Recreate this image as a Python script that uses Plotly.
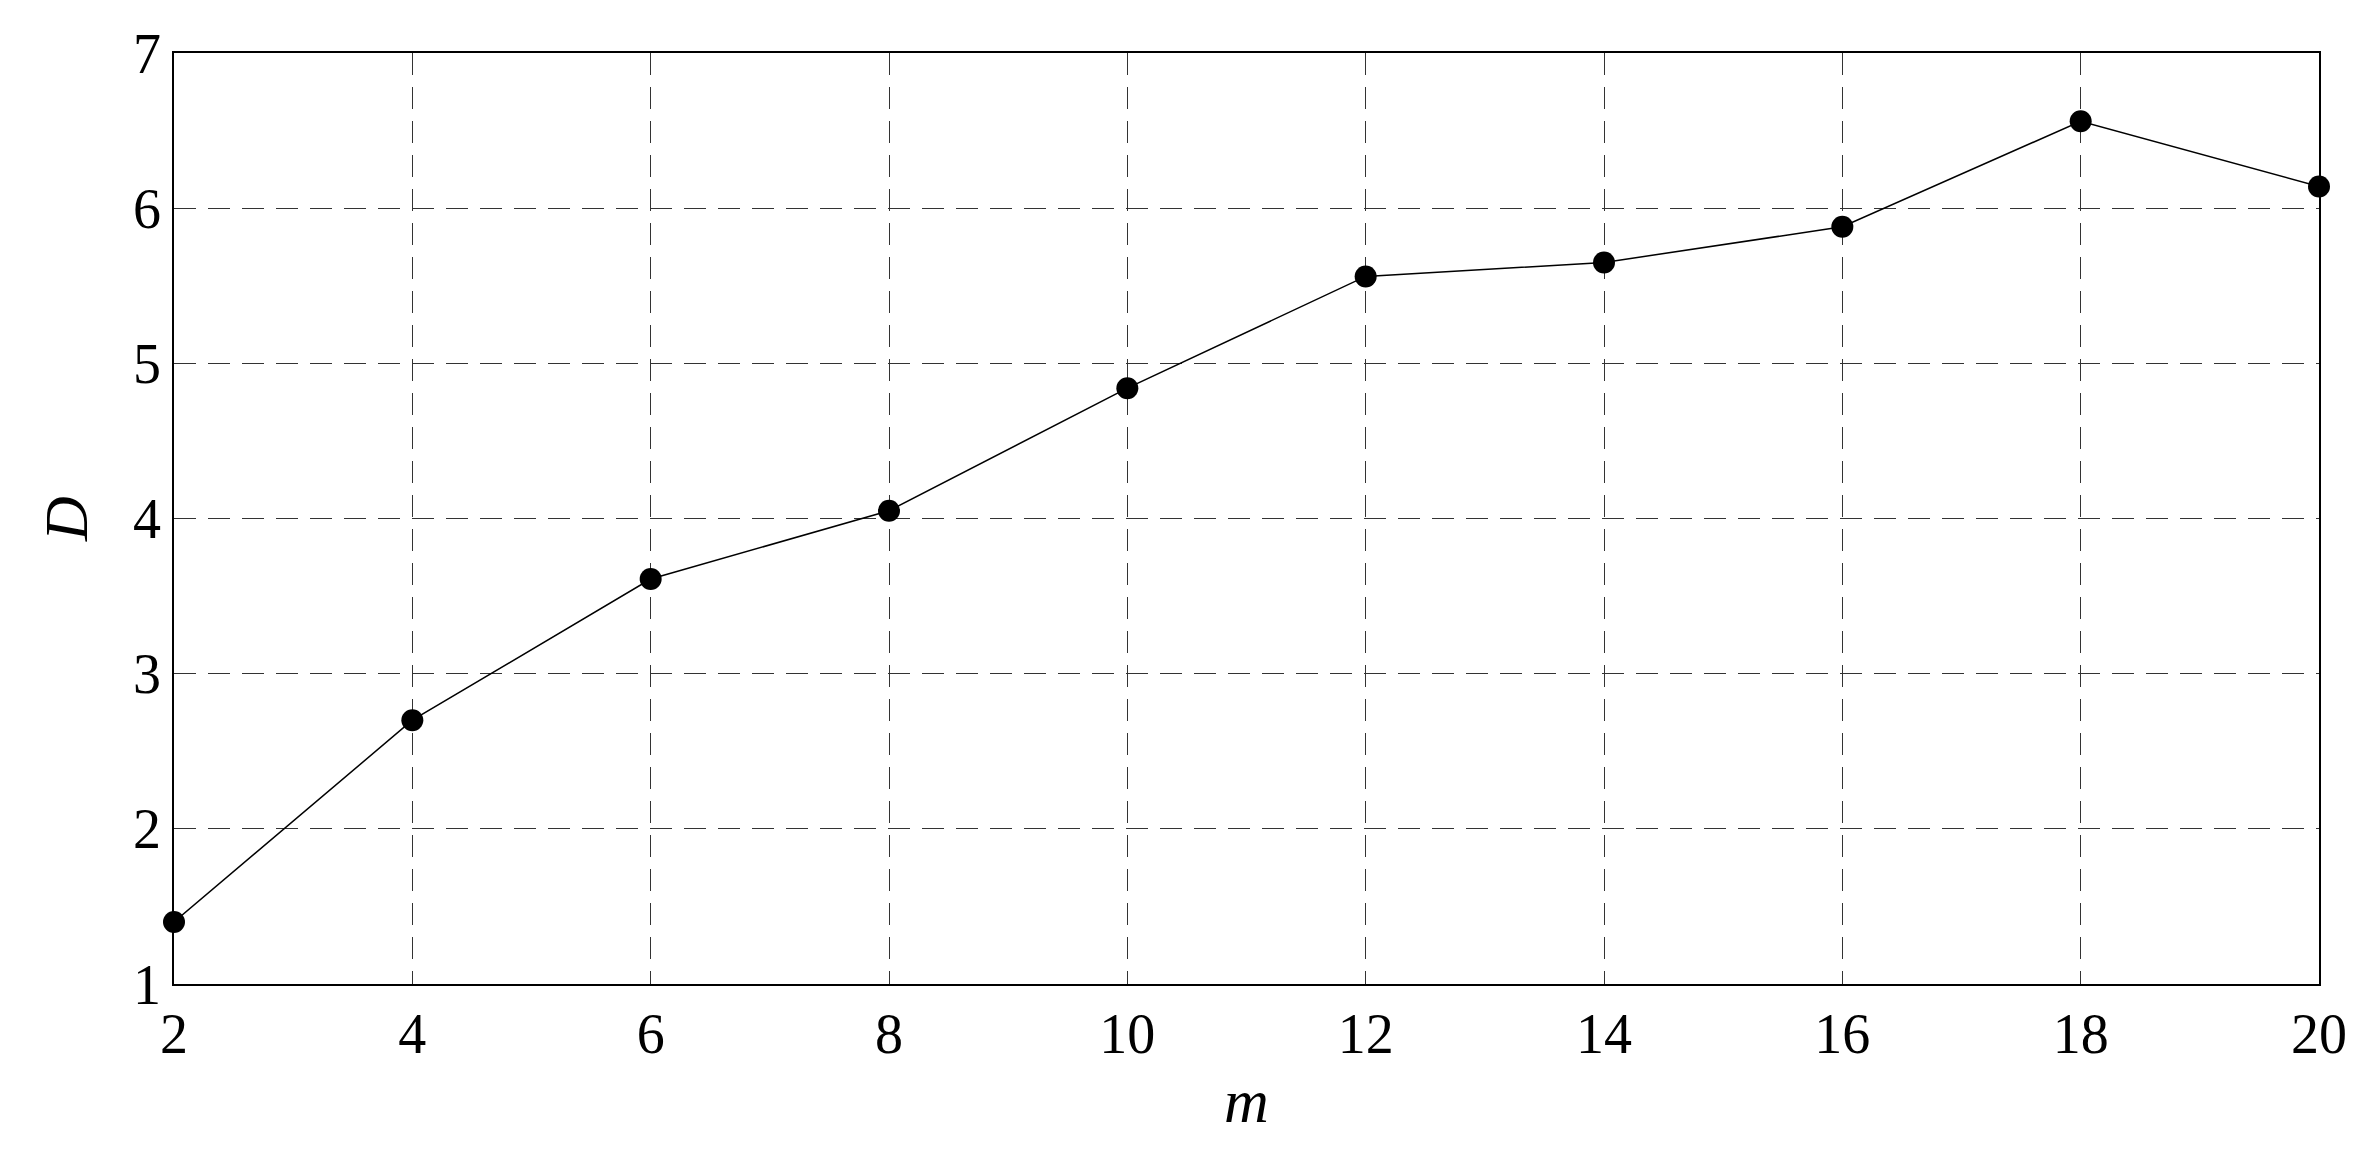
import plotly.graph_objects as go

m_values = [2, 4, 6, 8, 10, 12, 14, 16, 18, 20]
D_values = [1.40, 2.70, 3.61, 4.05, 4.84, 5.56, 5.65, 5.88, 6.56, 6.14]
x_ticks = [2, 4, 6, 8, 10, 12, 14, 16, 18, 20]
y_ticks = [1, 2, 3, 4, 5, 6, 7]

fig = go.Figure(go.Scatter(
    x=m_values, y=D_values, mode="lines+markers",
    line=dict(color="black", width=1.5),
    marker=dict(color="black", size=22),
    cliponaxis=False,
))
font = dict(family="Liberation Serif", size=56, color="black")
axis_common = dict(showline=True, linecolor="black", linewidth=1.5, mirror=True,
                   showgrid=True, gridcolor="#333333", griddash="22px,12px", gridwidth=1.3,
                   ticks="outside", ticklen=0, zeroline=False, tickfont=font)
fig.update_xaxes(range=[2, 20], tickvals=x_ticks,
                 title=dict(text="<i>m</i>", font=dict(family="Liberation Serif", size=62, color="black"), standoff=15),
                 **axis_common)
fig.update_yaxes(range=[1, 7], tickvals=y_ticks,
                 title=dict(text="<i>D</i>", font=dict(family="Liberation Serif", size=62, color="black"), standoff=25),
                 **axis_common)
fig.update_layout(width=2359, height=1151, plot_bgcolor="white", paper_bgcolor="white",
                  margin=dict(l=166, r=48, t=45, b=175), showlegend=False)
fig.write_html("out.html")
